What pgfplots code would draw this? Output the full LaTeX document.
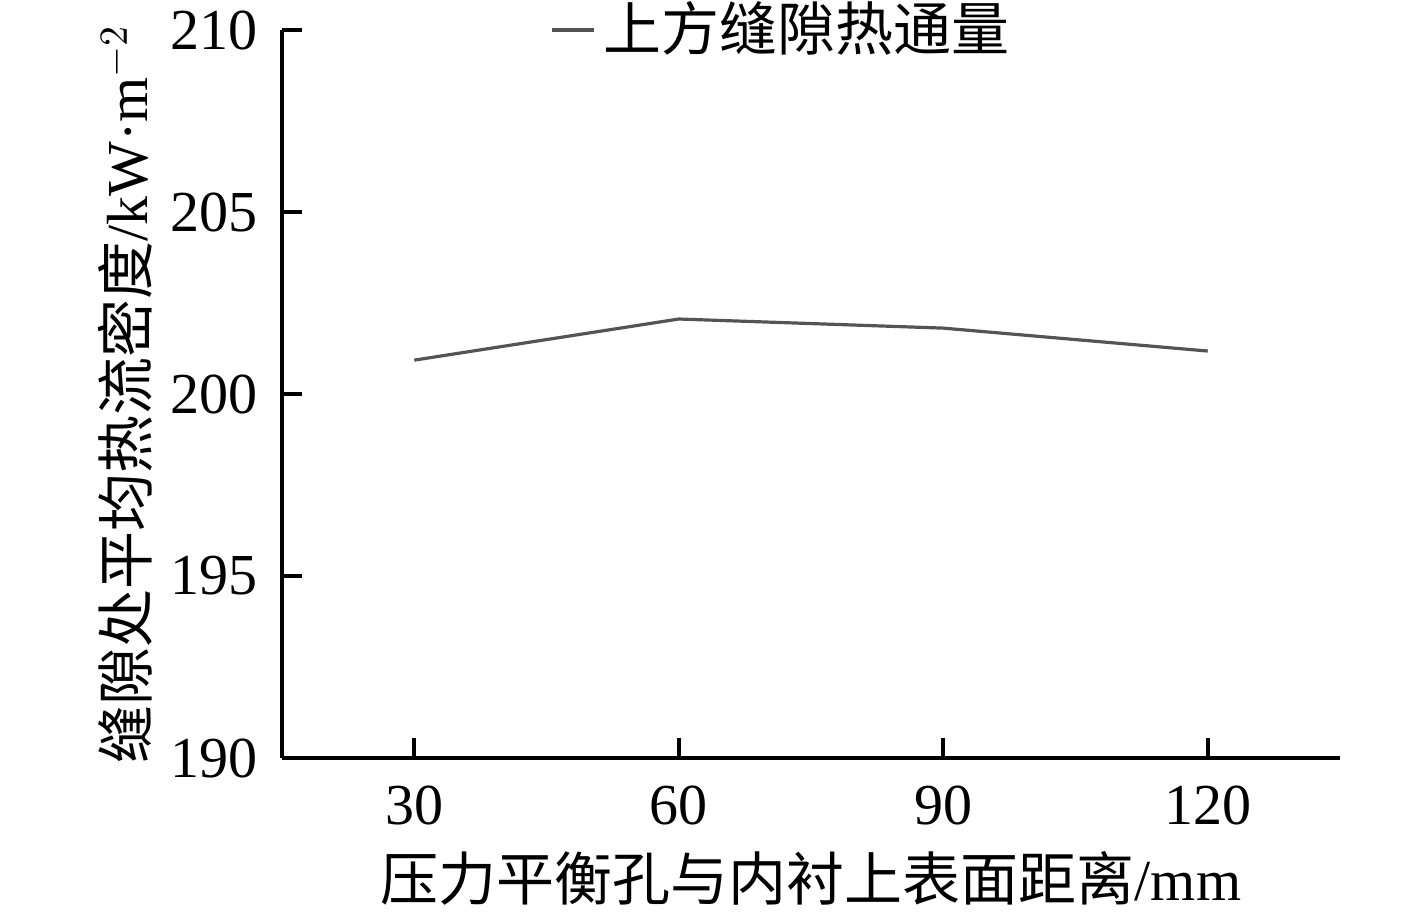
\documentclass[border=0pt]{standalone}
\usepackage{fontspec}
\setmainfont{Liberation Serif}
\newfontfamily\cjk{Noto Sans CJK SC}
\usepackage{pgfplots}
\pgfplotsset{compat=1.18}

\begin{document}
\fontsize{14.5bp}{17bp}\selectfont
\begin{tikzpicture}
\useasboundingbox (-70.5bp,-39.75bp) rectangle (283.75bp,189.5bp);
\begin{axis}[
    scale only axis,
    width=264.5bp,
    height=182bp,
    xmin=15, xmax=135,
    ymin=190, ymax=210,
    xtick={30,60,90,120},
    ytick={190,195,200,205,210},
    axis x line*=bottom,
    axis y line*=left,
    axis line style={line width=1bp, -},
    tick style={line width=1bp, black},
    tick align=inside,
    major tick length=5bp,
    /pgf/number format/assume math mode=true,
    /pgf/number format/1000 sep={},
    ticklabel style={font=\fontsize{14.5bp}{17bp}\selectfont},
    yticklabel style={xshift=-1bp},
    xticklabel style={yshift=-2bp},
    xlabel={{\cjk 压力平衡孔与内衬上表面距离}/mm},
    xlabel style={at={(axis description cs:0.5,-0.165)}, anchor=center},
    ylabel={{\cjk 缝隙处平均热流密度}/kW·m$^{-2}$},
    ylabel style={at={(axis description cs:-0.148,0.5)}, anchor=center},
    legend style={at={(axis description cs:0.474,1.0)}, anchor=center,
        draw=none, fill=none, font=\fontsize{14.5bp}{17bp}\selectfont},
    legend image code/.code={\draw[#1] (0bp,0bp) -- (10.5bp,0bp);},
    legend cell align=left,
]
\addplot[color=black!67, line width=0.8bp] coordinates {
    (30,200.93) (60,202.06) (90,201.81) (120,201.18)
};
\legend{{\cjk 上方缝隙热通量}}
\end{axis}
\end{tikzpicture}
\end{document}
